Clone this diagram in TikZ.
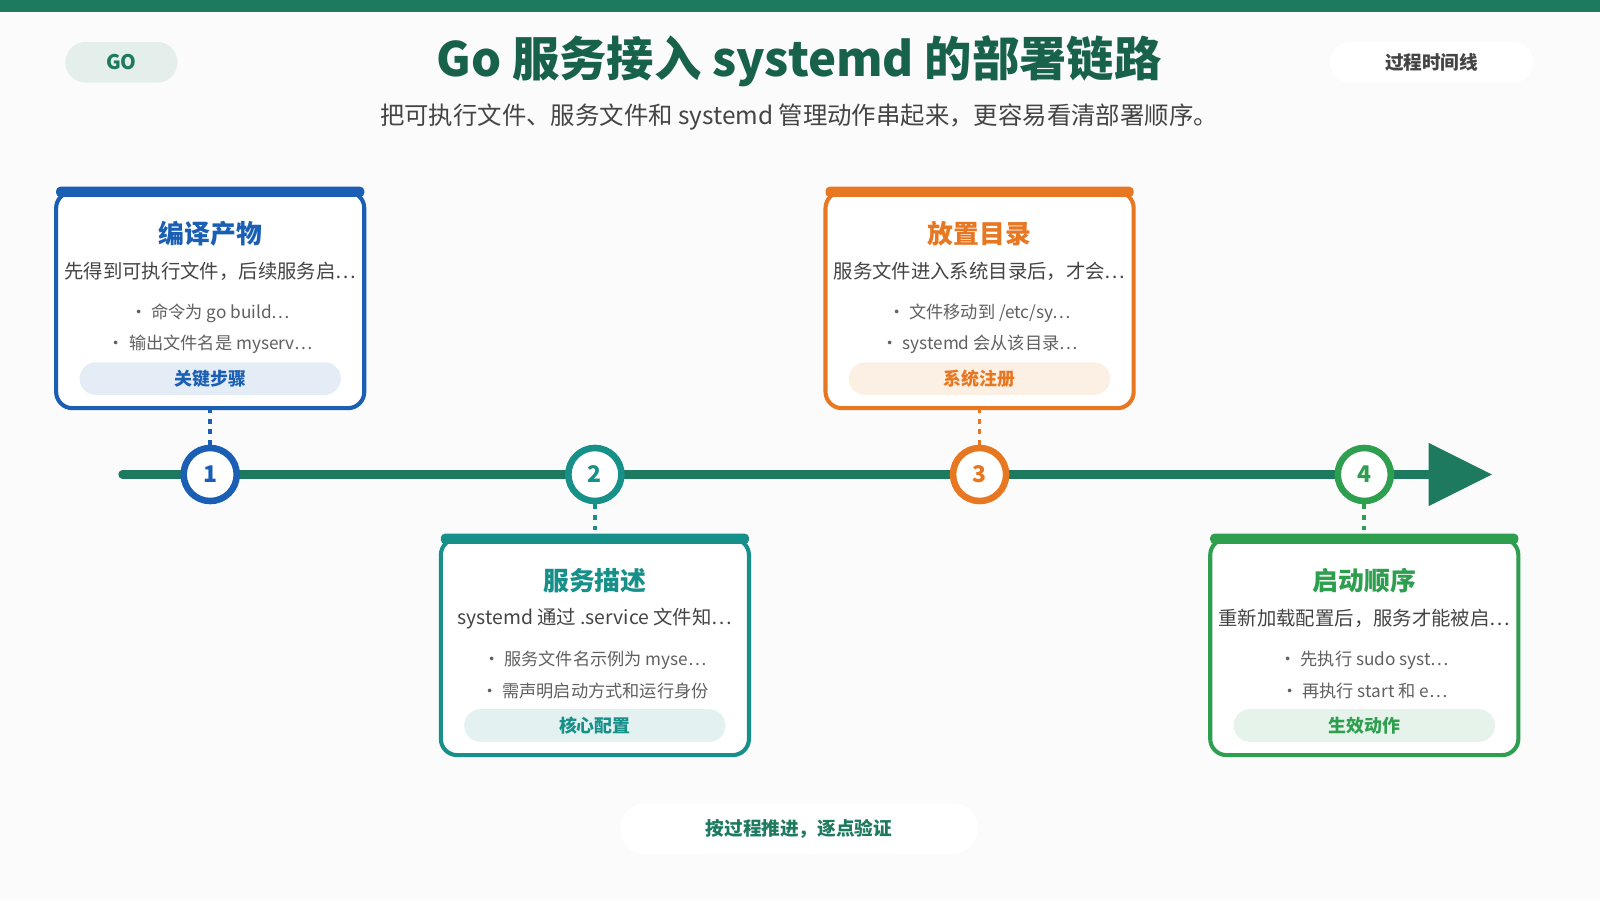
\documentclass[tikz,border=0pt]{standalone}
\usepackage{fontspec}
\setmainfont{Noto Sans CJK SC}
\usetikzlibrary{positioning}
\definecolor{tealdark}{HTML}{1E7A5F}
\definecolor{cblue}{HTML}{1A5FB4}
\definecolor{cteal}{HTML}{17908A}
\definecolor{corange}{HTML}{E87722}
\definecolor{cgreen}{HTML}{2E9E4F}
\definecolor{txtgray}{HTML}{444444}
\begin{document}
\begin{tikzpicture}[x=0.25mm,y=-0.25mm,
  pill/.style={draw=none, minimum height=10mm, align=center, inner sep=0pt},
  card/.style={draw=#1, line width=1mm, fill=white, rounded corners=4mm},
  step/.style={circle, draw=#1, line width=1.6mm, fill=white, minimum size=13mm, inner sep=0pt, text=#1, font=\fontsize{16}{18}\selectfont\bfseries},
  ctitle/.style={text=#1, font=\fontsize{18}{20}\selectfont\bfseries},
  cdesc/.style={text=txtgray, font=\fontsize{13.5}{15}\selectfont},
  cbul/.style={text=txtgray!85, font=\fontsize{12}{14}\selectfont},
  tag/.style={fill=#1!12, text=#1, rounded corners=4mm, minimum width=64mm, minimum height=8mm, font=\fontsize{12.5}{14}\selectfont\bfseries},
  link/.style={draw=#1, line width=0.9mm, dash pattern=on 1.2mm off 1.4mm}]
\useasboundingbox (0,0) rectangle (1568,882);
\fill[white!97!gray] (0,0) rectangle (1568,882);
\fill[tealdark] (0,0) rectangle (1568,12);

% header
\node[pill, fill=tealdark!12, minimum width=27.5mm, text=tealdark, font=\fontsize{14}{16}\selectfont\bfseries, rounded corners=5mm] (go) at (119,61) {GO};
\node[text=tealdark!80!black, font=\fontsize{33}{36}\selectfont\bfseries] (title) at (783,60) {Go 服务接入 systemd 的部署链路};
\node[text=txtgray, font=\fontsize{17}{20}\selectfont] (sub) at (783,115) {把可执行文件、服务文件和 systemd 管理动作串起来，更容易看清部署顺序。};
\node[pill, fill=white, minimum width=50mm, text=txtgray, font=\fontsize{13}{15}\selectfont\bfseries, rounded corners=5mm] (tl) at (1403,61) {过程时间线};

% timeline
\coordinate (start) at (120,465);
\coordinate (tip) at (1400,465);
\draw[tealdark, line width=2mm, line cap=round] (start) -- (tip);
\fill[tealdark] (1400,434) -- (1462,465) -- (1400,496) -- cycle;

\foreach \n/\x/\c in {1/206/cblue, 2/583/cteal, 3/960/corange, 4/1337/cgreen}
  \node[step=\c] (s\n) at (\x,465) {\n};

% cards
\foreach \n/\x/\y/\c/\t/\d/\ba/\bb/\g in {
  1/206/186/cblue/编译产物/先得到可执行文件，后续服务启…/命令为 go build…/输出文件名是 myserv…/关键步骤,
  2/583/526/cteal/服务描述/systemd 通过 .service 文件知…/服务文件名示例为 myse…/需声明启动方式和运行身份/核心配置,
  3/960/186/corange/放置目录/服务文件进入系统目录后，才会…/{文件移动到 /etc/sy…}/systemd 会从该目录…/系统注册,
  4/1337/526/cgreen/启动顺序/重新加载配置后，服务才能被启…/先执行 sudo syst…/再执行 start 和 e…/生效动作}{
  \draw[card=\c] (\x-151,\y+2) rectangle (\x+151,\y+214);
  \fill[\c, rounded corners=1mm] (\x-151,\y-3) rectangle (\x+151,\y+7);
  \node[ctitle=\c] (t\n) at (\x,\y+43) {\t};
  \node[cdesc] (d\n) at (\x,\y+80) {\d};
  \node[cbul] (b\n a) at (\x,\y+121) {\textbullet\ \ba};
  \node[cbul] (b\n b) at (\x,\y+151) {\textbullet\ \bb};
  \node[tag=\c] (g\n) at (\x,\y+185) {\g};
}
\coordinate (c1) at (206,400); \coordinate (c3) at (960,400);
\coordinate (c2) at (583,526); \coordinate (c4) at (1337,526);
\draw[link=cblue] (c1) -- (s1);
\draw[link=corange] (c3) -- (s3);
\draw[link=cteal] (s2) -- (c2);
\draw[link=cgreen] (s4) -- (c4);

% footer
\node[pill, fill=white, minimum width=87.5mm, minimum height=12.5mm, text=tealdark, font=\fontsize{13}{15}\selectfont\bfseries, rounded corners=6mm] (foot) at (783,812) {按过程推进，逐点验证};
\end{tikzpicture}
\end{document}
